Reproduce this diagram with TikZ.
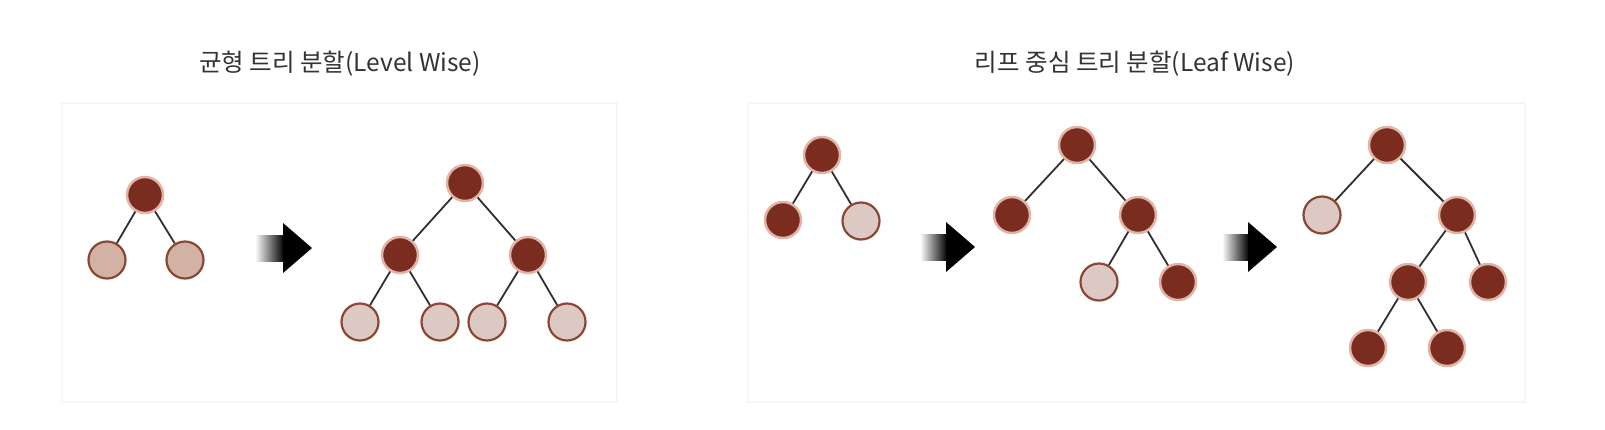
\documentclass[tikz,border=0pt]{standalone}
\usepackage{fontspec}
\newfontfamily\krfont{Noto Sans CJK KR}
\definecolor{darknode}{HTML}{7A2C1F}
\definecolor{halo}{HTML}{E2B4A8}
\definecolor{lightA}{HTML}{D2B2A2}
\definecolor{lightB}{HTML}{DDC9C3}
\definecolor{lborder}{HTML}{8B4733}
\definecolor{edgecol}{HTML}{303030}
\definecolor{titlecol}{HTML}{333333}
\definecolor{panelcol}{HTML}{F6F6F6}
\tikzset{
  dnode/.style={circle, inner sep=0pt, minimum size=36pt, fill=darknode, draw=halo, line width=2.5pt},
  lnode/.style={circle, inner sep=0pt, minimum size=37pt, fill=lightB, draw=lborder, line width=2.2pt},
  lnodeA/.style={lnode, fill=lightA},
  conn/.style={draw=edgecol, line width=1.8pt},
  title/.style={font=\krfont\fontsize{24.5}{28}\selectfont, text=titlecol, inner sep=0pt},
  panel/.style={draw=panelcol, line width=1.2pt},
}
\begin{document}
\begin{tikzpicture}[x=1pt,y=-1pt]
\useasboundingbox (0,0) rectangle (1605,429);
\fill[white] (0,0) rectangle (1605,429);
% panels
\draw[panel] (62,103) rectangle (617,402);
\draw[panel] (748,103) rectangle (1525,402);
% titles
\node[title] (t1) at (340,64) {균형 트리 분할(Level Wise)};
\node[title] (t2) at (1135,64) {리프 중심 트리 분할(Leaf Wise)};

% arrows
\shade[left color=white, right color=black] (255,235) rectangle (284,261);
\fill[black] (283,223) -- (312,248) -- (283,273) -- cycle;
\shade[left color=white, right color=black] (920,234) rectangle (947,260);
\fill[black] (946,222) -- (975,247) -- (946,272) -- cycle;
\shade[left color=white, right color=black] (1222,234) rectangle (1249,260);
\fill[black] (1248,222) -- (1277,247) -- (1248,272) -- cycle;

% ---- Level wise, tree 1
\node[dnode]  (a0) at (145,195) {};
\node[lnodeA] (a1) at (107,260) {};
\node[lnodeA] (a2) at (185,260) {};
% ---- Level wise, tree 2
\node[dnode] (b0) at (465,183) {};
\node[dnode] (b1) at (400,255) {};
\node[dnode] (b2) at (528,255) {};
\node[lnode] (b3) at (360,322) {};
\node[lnode] (b4) at (440,322) {};
\node[lnode] (b5) at (487,322) {};
\node[lnode] (b6) at (567,322) {};
% ---- Leaf wise, tree A
\node[dnode] (c0) at (822,155) {};
\node[dnode] (c1) at (783,220) {};
\node[lnode] (c2) at (861,221) {};
% ---- Leaf wise, tree B
\node[dnode] (d0) at (1077,145) {};
\node[dnode] (d1) at (1012,215) {};
\node[dnode] (d2) at (1138,215) {};
\node[lnode] (d3) at (1099,282) {};
\node[dnode] (d4) at (1178,282) {};
% ---- Leaf wise, tree C
\node[dnode] (e0) at (1387,145) {};
\node[lnode] (e1) at (1322,215) {};
\node[dnode] (e2) at (1457,215) {};
\node[dnode] (e3) at (1408,282) {};
\node[dnode] (e4) at (1488,282) {};
\node[dnode] (e5) at (1368,348) {};
\node[dnode] (e6) at (1447,348) {};

% connectors
\path[conn] (a0) -- (a1) (a0) -- (a2);
\path[conn] (b0) -- (b1) (b0) -- (b2) (b1) -- (b3) (b1) -- (b4) (b2) -- (b5) (b2) -- (b6);
\path[conn] (c0) -- (c1) (c0) -- (c2);
\path[conn] (d0) -- (d1) (d0) -- (d2) (d2) -- (d3) (d2) -- (d4);
\path[conn] (e0) -- (e1) (e0) -- (e2) (e2) -- (e3) (e2) -- (e4) (e3) -- (e5) (e3) -- (e6);
\end{tikzpicture}
\end{document}
